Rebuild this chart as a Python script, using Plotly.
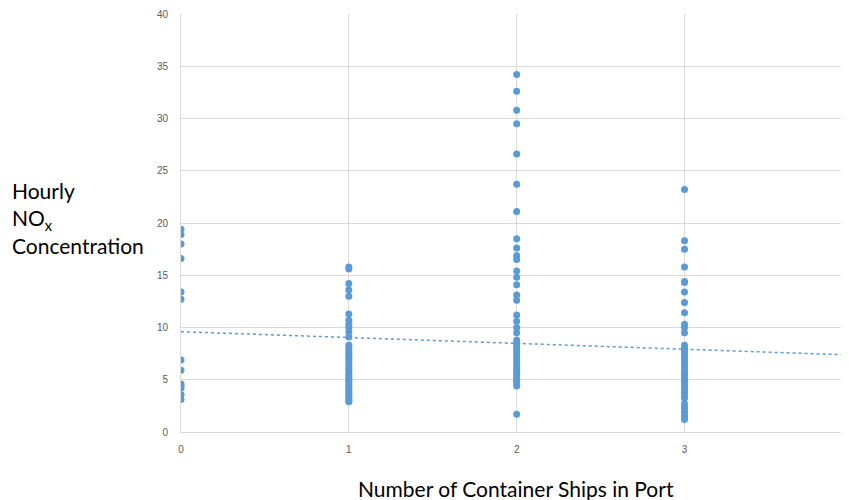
import plotly.graph_objects as go

# Number of container ships in port (category) and observed hourly NOx values
ships_0 = [19.4, 18.9, 18.0, 16.6, 13.4, 12.7, 6.9, 5.9, 4.6, 4.4, 4.2, 3.6, 3.1]
ships_1 = [15.8, 15.6, 14.2, 13.6, 13.0, 11.3, 10.7, 10.3, 10.0, 9.6, 9.1, 8.3, 8.1,
           7.8, 7.5, 7.3, 7.1, 6.9, 6.6, 6.4, 6.1, 5.9, 5.6, 5.4, 5.2, 5.0, 4.8,
           4.6, 4.4, 4.2, 4.0, 3.8, 3.6, 3.4, 3.2, 3.0, 2.9]
ships_2 = [34.2, 32.6, 30.8, 29.5, 26.6, 23.7, 21.1, 18.5, 17.6, 16.9, 16.5, 15.4,
           14.8, 14.1, 13.1, 12.6, 11.2, 10.6, 10.0, 9.5, 8.8, 8.5, 8.2, 7.9, 7.6,
           7.3, 7.0, 6.8, 6.5, 6.2, 6.0, 5.7, 5.5, 5.2, 5.0, 4.8, 4.6, 4.4, 1.7]
ships_3 = [23.2, 18.3, 17.5, 15.8, 14.4, 14.3, 13.4, 12.4, 11.4, 10.3, 10.0, 9.5,
           8.3, 8.0, 7.8, 7.5, 7.2, 7.0, 6.7, 6.4, 6.2, 5.9, 5.6, 5.4, 5.1, 4.9,
           4.6, 4.3, 4.1, 3.8, 3.5, 3.25, 2.7, 2.4, 2.2, 1.9, 1.6, 1.4, 1.2]

# Linear trendline
trend_intercept = 9.6
trend_slope = -0.56
trend_x = [0, 3.98]

x_ticks = [0, 1, 2, 3]
y_ticks = [0, 5, 10, 15, 20, 25, 30, 35, 40]

groups = [(0, ships_0), (1, ships_1), (2, ships_2), (3, ships_3)]
xs, ys = [], []
for k, vals in groups:
    xs += [k] * len(vals)
    ys += vals

color = "#5B9BD5"
fig = go.Figure()
fig.add_trace(go.Scatter(x=xs, y=ys, mode="markers",
                         marker=dict(color=color, size=7), showlegend=False))
fig.add_trace(go.Scatter(x=trend_x, y=[trend_intercept + trend_slope * v for v in trend_x],
                         mode="lines", line=dict(color=color, width=1.5, dash="dot"),
                         showlegend=False))

W, H = 841, 492
L, T, B = 173, 6, 68
PW, PH = W - L, H - T - B

tickfont = dict(family="Liberation Sans, Arial", size=10, color="#595959")
fig.update_layout(
    width=W, height=H,
    margin=dict(l=L, r=0, t=T, b=B),
    plot_bgcolor="white", paper_bgcolor="white",
    xaxis=dict(range=[0, 3.98], tickvals=x_ticks, ticktext=[str(v) for v in x_ticks],
               showgrid=True, gridcolor="#D9D9D9", gridwidth=1, zeroline=False,
               showline=True, linecolor="#D9D9D9", linewidth=1,
               tickfont=tickfont, ticklabelstandoff=8),
    yaxis=dict(range=[0, 40], tickvals=y_ticks, ticktext=[str(v) for v in y_ticks],
               showgrid=True, gridcolor="#D9D9D9", gridwidth=1, zeroline=False,
               showline=True, linecolor="#D9D9D9", linewidth=1,
               tickfont=tickfont, ticklabelstandoff=10),
    annotations=[
        dict(text="Hourly<br>NO<sub>x</sub><br>Concentration", xref="paper", yref="paper",
             x=(2 - L) / PW, y=(H - B - 210) / PH, xanchor="left", yanchor="middle",
             align="left", showarrow=False,
             font=dict(family="Lato, Open Sans", size=21, color="black")),
        dict(text="Number of Container Ships in Port", xref="paper", yref="paper",
             x=(508 - L) / PW, y=-(480 - (H - B)) / PH, xanchor="center", yanchor="middle",
             showarrow=False, font=dict(family="Lato, Open Sans", size=21, color="black")),
    ],
)

fig.write_html("out.html")
